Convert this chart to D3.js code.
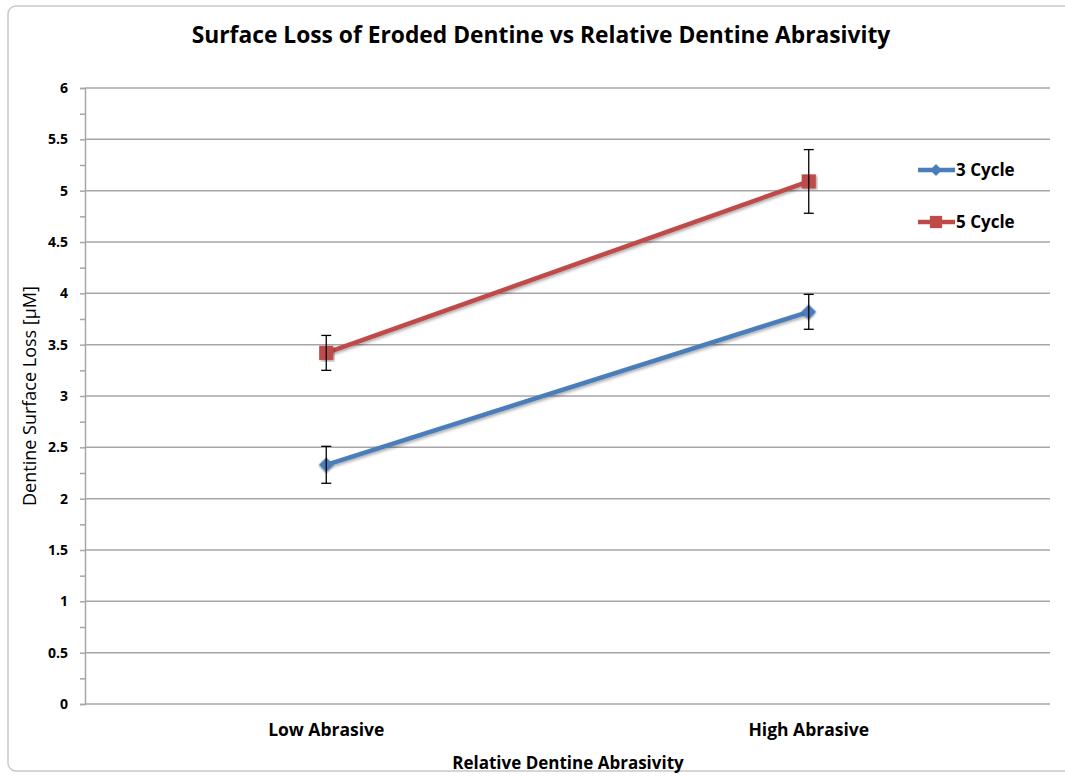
<!DOCTYPE html>
<html><head><meta charset="utf-8">
<script src="https://cdn.jsdelivr.net/npm/d3@7"></script>
<style>body{margin:0;background:#fff}svg{display:block}text{font-family:"Open Sans",sans-serif;font-weight:bold;fill:#000}</style>
</head><body><svg id="c" width="1065" height="776"></svg>
<script>
const categories = ["Low Abrasive", "High Abrasive"];
const seriesNames = ["3 Cycle", "5 Cycle"];
const values3 = [2.33, 3.82];
const err3 = [0.18, 0.17];
const values5 = [3.42, 5.09];
const err5 = [0.17, 0.31];
const yTicks = [0, 0.5, 1, 1.5, 2, 2.5, 3, 3.5, 4, 4.5, 5, 5.5, 6];
const colors = ["#4a7ebb", "#be4b48"];

const svg = d3.select("#c");
svg.append("rect").attr("x",8).attr("y",6).attr("width",1070).attr("height",765).attr("rx",8)
  .attr("fill","#fff").attr("stroke","#c8c8c8").attr("stroke-width",1.5);

const L=85,R=1050,T=88,B=704;
const x = d3.scaleBand().domain(categories).range([L,R]);
const y = d3.scaleLinear().domain([0,6]).range([B,T]);

svg.append("g").selectAll("line").data(yTicks).join("line")
  .attr("x1",L).attr("x2",R).attr("y1",d=>y(d)).attr("y2",d=>y(d))
  .attr("stroke","#a6a6a6").attr("stroke-width",1.5);

const ya = svg.append("g").attr("transform",`translate(${L},0)`)
  .call(d3.axisLeft(y).tickValues(d3.range(0,6.01,0.25)).tickSize(5).tickFormat(d=> yTicks.includes(d)? String(d):""));
ya.select(".domain").attr("stroke","#a6a6a6").attr("stroke-width",1.5);
ya.selectAll(".tick line").attr("stroke","#a6a6a6").attr("stroke-width",1.5);
ya.selectAll(".tick text").attr("x",-17).attr("font-size",14).attr("font-family",null).attr("font-weight",null);

svg.append("g").attr("transform",`translate(0,${B})`)
  .call(d3.axisBottom(x).tickSize(0).tickPadding(20))
  .call(g=>{g.select(".domain").remove(); g.selectAll("text").attr("font-size",17.5).attr("font-family",null).attr("font-weight",null);});

svg.append("text").attr("x",541).attr("y",43).attr("text-anchor","middle").attr("font-size",22.8).text("Surface Loss of Eroded Dentine vs Relative Dentine Abrasivity");
svg.append("text").attr("x",568).attr("y",769).attr("text-anchor","middle").attr("font-size",17).text("Relative Dentine Abrasivity");
svg.append("text").attr("transform","translate(36,396) rotate(-90)").attr("text-anchor","middle").attr("font-size",18).style("font-weight","normal").text("Dentine Surface Loss [µM]");

const cx = c => x(c)+x.bandwidth()/2;
const defs = svg.append("defs");
defs.append("filter").attr("id","sh").html('<feDropShadow dx="1.5" dy="1.5" stdDeviation="1.5" flood-color="#000" flood-opacity="0.35"/>');

const series = [{vals:values3,err:err3,sym:d3.symbolSquare,size:110,rot:45},{vals:values5,err:err5,sym:d3.symbolSquare,size:200,rot:0}];
series.forEach((s,i)=>{
  const data = categories.map((c,j)=>({c,v:s.vals[j],e:s.err[j]}));
  const g = svg.append("g");
  g.append("path").datum(data).attr("fill","none").attr("stroke",colors[i]).attr("stroke-width",4.5)
    .attr("filter","url(#sh)").attr("d",d3.line().x(d=>cx(d.c)).y(d=>y(d.v)));
  g.selectAll("path.m").data(data).join("path").attr("class","m")
    .attr("d",d3.symbol(s.sym,s.size)).attr("transform",d=>`translate(${cx(d.c)},${y(d.v)}) rotate(${s.rot})`)
    .attr("fill",colors[i]).attr("filter","url(#sh)");
  const eb = g.selectAll("g.e").data(data).join("g").attr("class","e").attr("stroke","#000").attr("stroke-width",1.3);
  eb.append("line").attr("x1",d=>cx(d.c)).attr("x2",d=>cx(d.c)).attr("y1",d=>y(d.v+d.e)).attr("y2",d=>y(d.v-d.e));
  eb.append("line").attr("x1",d=>cx(d.c)-5).attr("x2",d=>cx(d.c)+5).attr("y1",d=>y(d.v+d.e)).attr("y2",d=>y(d.v+d.e));
  eb.append("line").attr("x1",d=>cx(d.c)-5).attr("x2",d=>cx(d.c)+5).attr("y1",d=>y(d.v-d.e)).attr("y2",d=>y(d.v-d.e));
});

const leg = svg.append("g");
seriesNames.forEach((n,i)=>{
  const ly = 170 + i*52;
  const s = series[i];
  leg.append("line").attr("x1",918).attr("x2",955).attr("y1",ly).attr("y2",ly).attr("stroke",colors[i]).attr("stroke-width",4.5);
  leg.append("path").attr("d",d3.symbol(s.sym,i?150:70)).attr("transform",`translate(936,${ly}) rotate(${s.rot})`).attr("fill",colors[i]);
  leg.append("text").attr("x",956).attr("y",ly+6).attr("font-size",17).text(n);
});
</script></body></html>
